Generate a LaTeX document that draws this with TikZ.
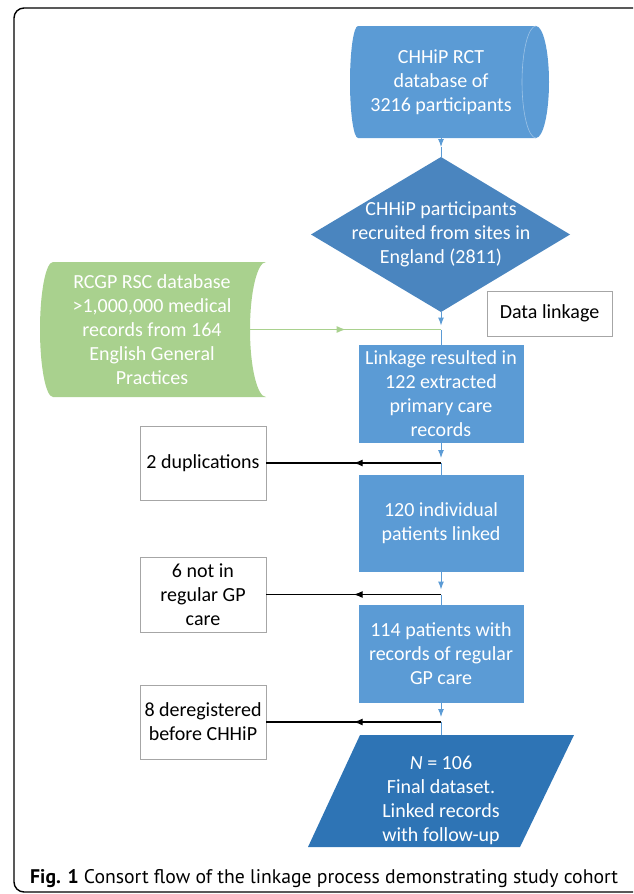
\documentclass[tikz,border=0pt]{standalone}
\usepackage{fontspec}
\setmainfont{Carlito}
\newfontfamily\capfont{PT Sans}
\usetikzlibrary{arrows.meta,decorations.markings}
\definecolor{cylblue}{HTML}{5B9BD5}
\definecolor{diablue}{HTML}{4A85BF}
\definecolor{finblue}{HTML}{2E74B5}
\definecolor{rsgreen}{HTML}{A9D18E}
\definecolor{boxgray}{HTML}{A6A6A6}
\definecolor{rimblue}{HTML}{9DC3E6}

\begin{document}
\begin{tikzpicture}[x=1pt,y=-1pt,
	every node/.style={font=\fontsize{20}{24}\selectfont, align=center, inner sep=0pt},
	bluebox/.style={fill=cylblue, text=white, minimum width=165pt, minimum height=98pt},
	greybox/.style={draw=boxgray, line width=0.8pt, fill=white, minimum width=126pt, minimum height=74pt},
	blueline/.style={draw=cylblue, line width=1pt},
	blackline/.style={draw=black, line width=1.1pt},
	midtip/.style={postaction={decorate}, decoration={markings, mark=at position #1 with {\arrow{Latex[length=9pt,width=7pt]}}}}]
			\useasboundingbox (0,0) rectangle (633,894);
			\clip (0,0) rectangle (633,894);
			\draw[line width=1.4pt, rounded corners=10pt] (14,8) rectangle (645,892);
			\fill[cylblue] (358,26) -- (536,26) .. controls (543.2,26) and (549,51.1) .. (549,82) .. controls (549,112.9) and (543.2,138) .. (536,138) -- (358,138) .. controls (353.6,138) and (350,112.9) .. (350,82) .. controls (350,51.1) and (353.6,26) .. (358,26) -- cycle;
			\draw[rimblue, line width=0.6pt] (536,26) .. controls (528.3,26) and (522,51.1) .. (522,82) .. controls (522,112.9) and (528.3,138) .. (536,138);
			\fill[diablue] (441,157) -- (570,234.5) -- (441,312) -- (311,234.5) -- cycle;
			\fill[rsgreen] (53,262) -- (266,262) .. controls (257.2,262) and (250,292.2) .. (250,329.5) .. controls (250,366.8) and (257.2,397) .. (266,397) -- (53,397) .. controls (45.8,397) and (40,366.8) .. (40,329.5) .. controls (40,292.2) and (45.8,262) .. (53,262) -- cycle;
			\fill[finblue] (360,735) -- (574,735) -- (520,847) -- (308,847) -- cycle;
			\node[text=white, minimum width=199pt, minimum height=112pt] (rct) at (441,82) {CHHiP RCT\\database of\\3216 participants};
			\node[text=white, minimum width=259pt, minimum height=155pt] (site) at (441,234.5) {CHHiP participants\\recruited from sites in\\England (2811)};
			\node[text=white, minimum width=196pt, minimum height=135pt] (rsc) at (152,329.5) {RCGP RSC database\\>1,000,000 medical\\records from 164\\English General\\Practices};
			\node[greybox, minimum width=125pt, minimum height=45pt] (dlink) at (549.5,313.5) {Data linkage};
			\node[bluebox] (extract) at (441,394) {Linkage resulted in\\122 extracted\\primary care\\records};
			\node[bluebox, minimum height=97pt] (linked) at (441,523.5) {120 individual\\patients linked};
			\node[bluebox] (regular) at (441,654) {114 patients with\\records of regular\\GP care};
			\node[text=white, minimum width=212pt, minimum height=112pt] (final) at (441,791) {\rule{0pt}{33pt}{\itshape N} = 106\\Final dataset.\\Linked records\\with follow-up};
			\node[greybox] (dup) at (203,463) {2 duplications};
			\node[greybox, minimum height=75pt] (notgp) at (203,594.5) {6 not in\\regular GP\\care};
			\node[greybox] (dereg) at (203,722) {8 deregistered\\before CHHiP};
			\node[anchor=base west, font=\capfont\fontsize{19.7}{23}\selectfont] (cap) at (30,883) {\textbf{Fig. 1} Consort flow of the linkage process demonstrating study cohort};
			\coordinate (c0) at (441,147);
			\coordinate (j1) at (441,329.5);
			\coordinate (j2) at (441,463);
			\coordinate (j3) at (441,594.5);
			\coordinate (j4) at (441,722);
			\draw[blueline, -{Latex[length=8pt,width=6pt]}] (rct.south) -- (c0);
			\draw[blueline] (c0) -- (site.north);
			\draw[rsgreen, line width=1pt, midtip=0.5] (rsc.east) -- (j1);
			\draw[blueline, shorten >=4pt, -{Latex[length=8pt,width=6pt]}] (site.south) -- (j1);
			\draw[blueline] (j1) -- (extract.north);
			\draw[blueline, shorten >=5pt, -{Latex[length=8pt,width=6pt]}] (extract.south) -- (j2);
			\draw[blueline] (j2) -- (linked.north);
			\draw[blackline, midtip=0.5] (j2) -- (dup.east);
			\draw[blueline, shorten >=5pt, -{Latex[length=8pt,width=6pt]}] (linked.south) -- (j3);
			\draw[blueline] (j3) -- (regular.north);
			\draw[blackline, midtip=0.5] (j3) -- (notgp.east);
			\draw[blueline, shorten >=5pt, -{Latex[length=8pt,width=6pt]}] (regular.south) -- (j4);
			\draw[blueline] (j4) -- (final.north);
			\draw[blackline, midtip=0.5] (j4) -- (dereg.east);
		\end{tikzpicture}
\end{document}
